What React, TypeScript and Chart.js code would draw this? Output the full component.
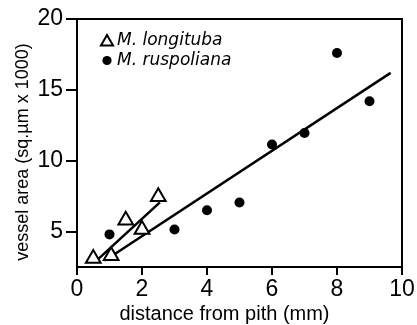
import { useEffect, useRef } from "react";
import { Chart, registerables } from "chart.js";

Chart.register(...registerables);

// ---- data ----
const seriesLabels = ["M. longituba", "M. ruspoliana"];
const longitubaX = [0.5, 1.05, 1.5, 2.0, 2.5];
const longitubaY = [3.1, 3.3, 5.8, 5.15, 7.45];
const ruspolianaX = [1, 3, 4, 5, 6, 7, 8, 9];
const ruspolianaY = [4.8, 5.15, 6.5, 7.05, 11.15, 11.95, 17.6, 14.2];
const longitubaFitX = [0.55, 2.55];
const longitubaFitY = [2.84, 7.06];
const ruspolianaFitX = [0.86, 9.65];
const ruspolianaFitY = [2.96, 16.2];
const xTicks = [0, 2, 4, 6, 8, 10];
const yTicks = [5, 10, 15, 20];
const xTitle = "distance from pith (mm)";
const yTitle = "vessel area (sq.µm x 1000)";

const pairs = (xs: number[], ys: number[]) => xs.map((x, i) => ({ x, y: ys[i] }));

const framePlugin = {
  id: "frame",
  beforeDatasetsDraw(chart: any) {
    const { ctx, chartArea } = chart;
    ctx.save();
    ctx.strokeStyle = "#000";
    ctx.lineWidth = 2;
    ctx.beginPath();
    ctx.moveTo(chartArea.left, chartArea.top);
    ctx.lineTo(chartArea.right, chartArea.top);
    ctx.lineTo(chartArea.right, chartArea.bottom);
    ctx.stroke();
    ctx.restore();
  },
};

const legendPlugin = {
  id: "insideLegend",
  afterDatasetsDraw(chart: any) {
    const { ctx, chartArea } = chart;
    const rows = [0, 1];
    ctx.save();
    rows.forEach((i) => {
      const ds = chart.data.datasets[i];
      const cx = chartArea.left + 30;
      const cy = chartArea.top + 22 + i * 19.5;
      ctx.strokeStyle = "#000";
      ctx.fillStyle = "#000";
      ctx.lineWidth = 2;
      ctx.beginPath();
      if (ds.pointStyle === "triangle") {
        const r = 7;
        for (let k = 0; k < 3; k++) {
          const a = -Math.PI / 2 + (k * 2 * Math.PI) / 3;
          const px = cx + Math.cos(a) * r;
          const py = cy + 1 + Math.sin(a) * r;
          if (k === 0) ctx.moveTo(px, py);
          else ctx.lineTo(px, py);
        }
        ctx.closePath();
        ctx.fillStyle = "#fff";
        ctx.fill();
        ctx.stroke();
      } else {
        ctx.arc(cx, cy, 4.6, 0, Math.PI * 2);
        ctx.fill();
      }
      ctx.fillStyle = "#000";
      ctx.font = "oblique 17px 'DejaVu Sans'";
      ctx.textAlign = "left";
      ctx.textBaseline = "middle";
      ctx.fillText(ds.label, cx + 10, cy);
    });
    ctx.restore();
  },
};

const titlesPlugin = {
  id: "axisTitles",
  afterDraw(chart: any) {
    const { ctx, chartArea } = chart;
    ctx.save();
    ctx.fillStyle = "#000";
    ctx.textAlign = "center";
    ctx.textBaseline = "middle";
    ctx.font = "20px 'Liberation Sans'";
    ctx.fillText(xTitle, (chartArea.left + chartArea.right) / 2 - 15, chart.height - 11);
    ctx.translate(23, (chartArea.top + chartArea.bottom) / 2 + 9);
    ctx.rotate(-Math.PI / 2);
    ctx.font = "18px 'Liberation Sans'";
    ctx.fillText(yTitle, 0, 0);
    ctx.restore();
  },
};

export default function App() {
  const ref = useRef<HTMLCanvasElement | null>(null);

  useEffect(() => {
    if (!ref.current) return;
    const tickFont = { family: "'Liberation Sans'", size: 23 };
    const chart = new Chart(ref.current, {
      type: "scatter",
      data: {
        datasets: [
          {
            label: seriesLabels[0],
            data: pairs(longitubaX, longitubaY),
            pointStyle: "triangle",
            pointRadius: 8.5,
            pointBorderWidth: 2,
            borderColor: "#000",
            backgroundColor: "#fff",
            showLine: false,
          },
          {
            label: seriesLabels[1],
            data: pairs(ruspolianaX, ruspolianaY),
            pointStyle: "circle",
            pointRadius: 5,
            pointBorderWidth: 0,
            borderColor: "#000",
            backgroundColor: "#000",
            showLine: false,
          },
          {
            label: "longituba fit",
            data: pairs(longitubaFitX, longitubaFitY),
            showLine: true,
            pointRadius: 0,
            borderWidth: 2.5,
            borderColor: "#000",
            fill: false,
          },
          {
            label: "ruspoliana fit",
            data: pairs(ruspolianaFitX, ruspolianaFitY),
            showLine: true,
            pointRadius: 0,
            borderWidth: 2.5,
            borderColor: "#000",
            fill: false,
          },
        ] as any,
      },
      options: {
        animation: false,
        responsive: false,
        layout: { padding: { top: 19, right: 15, left: 0, bottom: 0 } },
        plugins: {
          legend: { display: false },
          tooltip: { enabled: false },
        },
        scales: {
          x: {
            type: "linear",
            min: 0,
            max: 10,
            ticks: { font: tickFont, color: "#000", padding: 1 },
            afterBuildTicks: (s: any) => {
              s.ticks = xTicks.map((v) => ({ value: v }));
            },
            afterFit: (s: any) => {
              s.height = 58;
            },
            grid: {
              display: true,
              drawOnChartArea: false,
              drawTicks: true,
              tickLength: 8,
              color: "#000",
              lineWidth: 2,
            },
            border: { display: true, color: "#000", width: 2 },
          },
          y: {
            type: "linear",
            min: 2.5,
            max: 20,
            ticks: { font: tickFont, color: "#000", padding: 3 },
            afterBuildTicks: (s: any) => {
              s.ticks = yTicks.map((v) => ({ value: v }));
            },
            afterFit: (s: any) => {
              s.width = 77;
            },
            grid: {
              display: true,
              drawOnChartArea: false,
              drawTicks: true,
              tickLength: 11,
              color: "#000",
              lineWidth: 2,
            },
            border: { display: true, color: "#000", width: 2 },
          },
        },
      } as any,
      plugins: [framePlugin, legendPlugin, titlesPlugin],
    });
    return () => chart.destroy();
  }, []);

  return (
    <canvas
      ref={ref}
      width={417}
      height={325}
      style={{ position: "fixed", left: 0, top: 0, width: 417, height: 325, background: "#fff" }}
    />
  );
}
